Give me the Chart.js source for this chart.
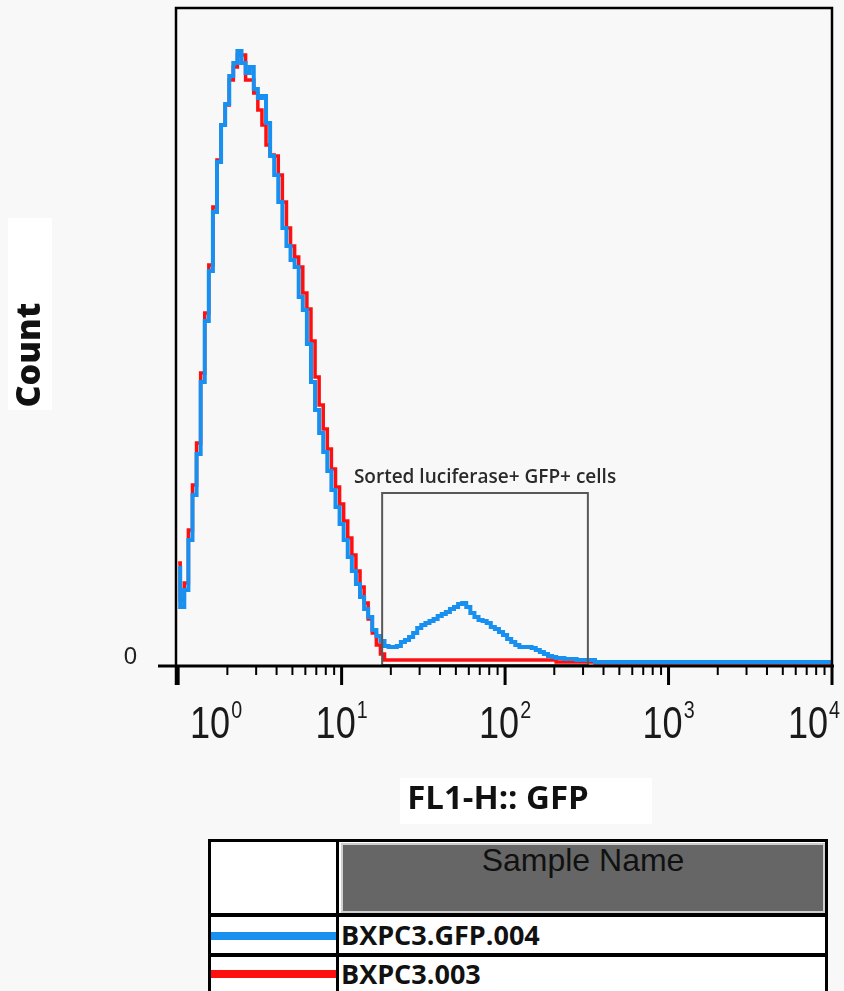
<!DOCTYPE html>
<html>
<head>
<meta charset="utf-8">
<script src="https://cdn.jsdelivr.net/npm/chart.js@4.4.1/dist/chart.umd.min.js"></script>
<style>
  html, body { margin: 0; padding: 0; background: #f8f8f8; width: 844px; height: 991px; overflow: hidden; }
  #wrap { position: relative; width: 844px; height: 991px; }
  #chart { position: absolute; left: 0; top: 0; }
  .legend { position: absolute; left: 208px; top: 839px; width: 620px; height: 170px;
            border: 3px solid #000; box-sizing: border-box; background: #fff; }
  .legend .vdiv { position: absolute; left: 125px; top: 0; width: 3px; height: 100%; background: #000; }
  .legend .hdiv { position: absolute; left: 0; width: 100%; height: 4px; background: #000; }
  .legend .head { position: absolute; left: 130px; top: 1px; width: 484px; height: 70px; background: #666;
                  box-shadow: inset 0 0 0 2px #cfcfcf; font: 32px "Liberation Sans", Arial, sans-serif;
                  color: #111; text-align: center; line-height: 34px; }
  .legend .swatch { position: absolute; left: 0; width: 125px; height: 8px; }
  .legend .name { position: absolute; left: 130px; font: 700 27px "Open Sans", sans-serif; color: #111; line-height: 34px; }
</style>
</head>
<body>
<div id="wrap">
  <canvas id="chart" width="844" height="830"></canvas>
  <div class="legend">
    <div class="vdiv"></div>
    <div class="head">Sample Name</div>
    <div class="hdiv" style="top:71px"></div>
    <div class="swatch" style="top:90px;background:#1790f0"></div>
    <div class="name" style="top:76px">BXPC3.GFP.004</div>
    <div class="hdiv" style="top:111px"></div>
    <div class="swatch" style="top:128px;background:#ff1010"></div>
    <div class="name" style="top:115px">BXPC3.003</div>
  </div>
</div>
<script>
// FL1-H histogram bins (fluorescence, log spaced) and counts per bin
const bins = [1.000, 1.059, 1.122, 1.189, 1.259, 1.334, 1.413, 1.496, 1.585, 1.679,
  1.778, 1.884, 1.995, 2.113, 2.239, 2.371, 2.512, 2.661, 2.818, 2.985,
  3.162, 3.350, 3.548, 3.758, 3.981, 4.217, 4.467, 4.732, 5.012, 5.309,
  5.623, 5.957, 6.310, 6.683, 7.079, 7.499, 7.943, 8.414, 8.913, 9.441,
  10.00, 10.59, 11.22, 11.89, 12.59, 13.34, 14.13, 14.96, 15.85, 16.79,
  17.78, 18.84, 19.95, 21.13, 22.39, 23.71, 25.12, 26.61, 28.18, 29.85,
  31.62, 33.50, 35.48, 37.58, 39.81, 42.17, 44.67, 47.32, 50.12, 53.09,
  56.23, 59.57, 63.10, 66.83, 70.79, 74.99, 79.43, 84.14, 89.13, 94.41,
  100.0, 105.9, 112.2, 118.9, 125.9, 133.4, 141.3, 149.6, 158.5, 167.9,
  177.8, 188.4, 199.5, 211.3, 223.9, 237.1, 251.2, 266.1, 281.8, 298.5,
  316.2, 398.1, 631.0, 1000, 1585, 2512, 3981, 6310, 10000];

const gfpCounts = [97, 58, 75, 125, 170, 211, 283, 344, 394, 453,
  503, 540, 561, 589, 602, 614, 602, 592, 598, 576,
  567, 569, 542, 509, 490, 463, 437, 419, 405, 398,
  368, 355, 321, 283, 255, 232, 213, 194, 175, 158,
  141, 125, 108, 94, 81, 68, 56, 48, 35, 29,
  24, 19, 18, 18, 19, 23, 25, 28, 32, 37,
  40, 42, 44, 46, 49, 51, 53, 56, 58, 61,
  62, 58, 52, 48, 45, 44, 42, 38, 36, 33,
  30, 26, 23, 20, 18, 18, 18, 17, 15, 13,
  11, 9, 8, 7, 7, 6, 6, 6, 5, 5,
  5, 3, 3, 3, 3, 3, 3, 3, 3];

const ctrlCounts = [102, 65, 82, 135, 180, 222, 292, 352, 400, 458,
  505, 540, 560, 585, 598, 610, 610, 585, 585, 572,
  555, 540, 520, 510, 509, 490, 463, 437, 419, 408,
  398, 372, 356, 324, 288, 260, 236, 216, 196, 178,
  161, 144, 127, 110, 94, 78, 62, 46, 32, 20,
  11, 5, 5, 5, 5, 5, 5, 5, 5, 5,
  5, 5, 5, 5, 5, 5, 5, 5, 5, 5,
  5, 5, 5, 5, 5, 5, 5, 5, 5, 5,
  5, 5, 5, 5, 5, 5, 5, 5, 5, 5,
  5, 5, 5, 3, 3, 3, 3, 3, 3, 3,
  3, 2, 2, 2, 2, 2, 2, 2, 2];

const seriesNames = ['BXPC3.GFP.004', 'BXPC3.003'];
const decadeTicks = [1, 10, 100, 1000, 10000];
const decadeExp = ['0', '1', '2', '3', '4'];
const yTickLabels = ['0'];
const gateRange = [17.7, 321];
const gateTop = 172;
const gateLabel = 'Sorted luciferase+ GFP+ cells';
const xMin = 0.97, xMax = 10000, yMax = 657;

const BLUE = '#1790f0';
const RED = '#ff1010';

function toPoints(counts) {
  return bins.map((x, i) => ({ x, y: counts[i] }));
}

// draws frame, log ticks, tick labels, titles and the gate
const flowAxes = {
  id: 'flowAxes',
  beforeDraw(chart) {
    const c = chart.ctx;
    c.save();
    c.fillStyle = '#fff';
    c.fillRect(8, 218, 44, 192);
    c.fillRect(400, 778, 252, 46);
    c.restore();
  },
  afterDatasetsDraw(chart) {
    const { ctx, chartArea: a, scales: { x, y } } = chart;
    ctx.save();

    // gate box
    const gx0 = x.getPixelForValue(gateRange[0]);
    const gx1 = x.getPixelForValue(gateRange[1]);
    const gy = y.getPixelForValue(gateTop);
    const gb = y.getPixelForValue(0);
    ctx.strokeStyle = '#585858';
    ctx.lineWidth = 2;
    ctx.strokeRect(gx0, gy, gx1 - gx0, gb - gy);
    ctx.fillStyle = '#2a2a2a';
    ctx.font = '600 19px "Open Sans", sans-serif';
    ctx.textAlign = 'center';
    ctx.textBaseline = 'alphabetic';
    ctx.fillText(gateLabel, (gx0 + gx1) / 2, gy - 10);

    // frame
    ctx.strokeStyle = '#000';
    ctx.lineWidth = 2.5;
    ctx.beginPath();
    ctx.moveTo(a.left, a.bottom + 20);
    ctx.lineTo(a.left, a.top);
    ctx.lineTo(a.right, a.top);
    ctx.lineTo(a.right, a.bottom);
    ctx.stroke();
    ctx.lineWidth = 3;
    ctx.beginPath();
    ctx.moveTo(a.left - 18, a.bottom + 1);
    ctx.lineTo(a.right + 2, a.bottom + 1);
    ctx.stroke();

    // log ticks
    decadeTicks.forEach((d, i) => {
      const px = x.getPixelForValue(d);
      ctx.lineWidth = 3;
      ctx.beginPath();
      ctx.moveTo(px, a.bottom);
      ctx.lineTo(px, a.bottom + 20);
      ctx.stroke();
      if (i < decadeTicks.length - 1) {
        ctx.lineWidth = 2;
        for (let m = 2; m < 10; m++) {
          const mx = x.getPixelForValue(d * m);
          ctx.beginPath();
          ctx.moveTo(mx, a.bottom);
          ctx.lineTo(mx, a.bottom + 10);
          ctx.stroke();
        }
      }
    });

    // decade labels 10^n
    ctx.fillStyle = '#1a1a1a';
    ctx.textAlign = 'left';
    const sx = 0.82;
    decadeTicks.forEach((d, i) => {
      const px = x.getPixelForValue(d);
      ctx.font = '44px "Liberation Sans", sans-serif';
      const wb = ctx.measureText('10').width * sx;
      ctx.font = '24px "Liberation Sans", sans-serif';
      const ws = ctx.measureText(decadeExp[i]).width * sx;
      const w = wb + ws + 1;
      const left = Math.min(Math.max(px - w / 2, 190), 840 - w);
      ctx.save();
      ctx.translate(left, 738);
      ctx.scale(sx, 1);
      ctx.font = '44px "Liberation Sans", sans-serif';
      ctx.fillText('10', 0, 0);
      ctx.font = '24px "Liberation Sans", sans-serif';
      ctx.fillText(decadeExp[i], (wb + 1) / sx, -20);
      ctx.restore();
    });

    // y tick label
    ctx.font = '24px "Liberation Sans", sans-serif';
    ctx.textAlign = 'right';
    ctx.fillStyle = '#222';
    ctx.fillText(yTickLabels[0], 137, y.getPixelForValue(0) - 1);

    // axis titles
    ctx.fillStyle = '#111';
    ctx.font = 'bold 33px "Open Sans", sans-serif';
    ctx.textAlign = 'center';
    ctx.textBaseline = 'middle';
    ctx.fillText('FL1-H:: GFP', 498, 800);
    ctx.save();
    ctx.translate(30, 355);
    ctx.rotate(-Math.PI / 2);
    ctx.font = '800 34px "Open Sans", sans-serif';
    ctx.fillText('Count', 0, 0);
    ctx.restore();

    ctx.restore();
  }
};

new Chart(document.getElementById('chart'), {
  type: 'line',
  data: {
    datasets: [
      { label: seriesNames[0], data: toPoints(gfpCounts), borderColor: BLUE, borderWidth: 4,
        pointRadius: 0, stepped: 'middle', fill: false },
      { label: seriesNames[1], data: toPoints(ctrlCounts), borderColor: RED, borderWidth: 3.5,
        pointRadius: 0, stepped: 'middle', fill: false }
    ]
  },
  options: {
    responsive: false,
    animation: false,
    layout: { padding: { left: 176, right: 12, top: 8, bottom: 165 } },
    scales: {
      x: { type: 'logarithmic', min: xMin, max: xMax, display: false },
      y: { type: 'linear', min: 0, max: yMax, display: false }
    },
    plugins: { legend: { display: false }, tooltip: { enabled: false } }
  },
  plugins: [flowAxes]
});
</script>
</body>
</html>
